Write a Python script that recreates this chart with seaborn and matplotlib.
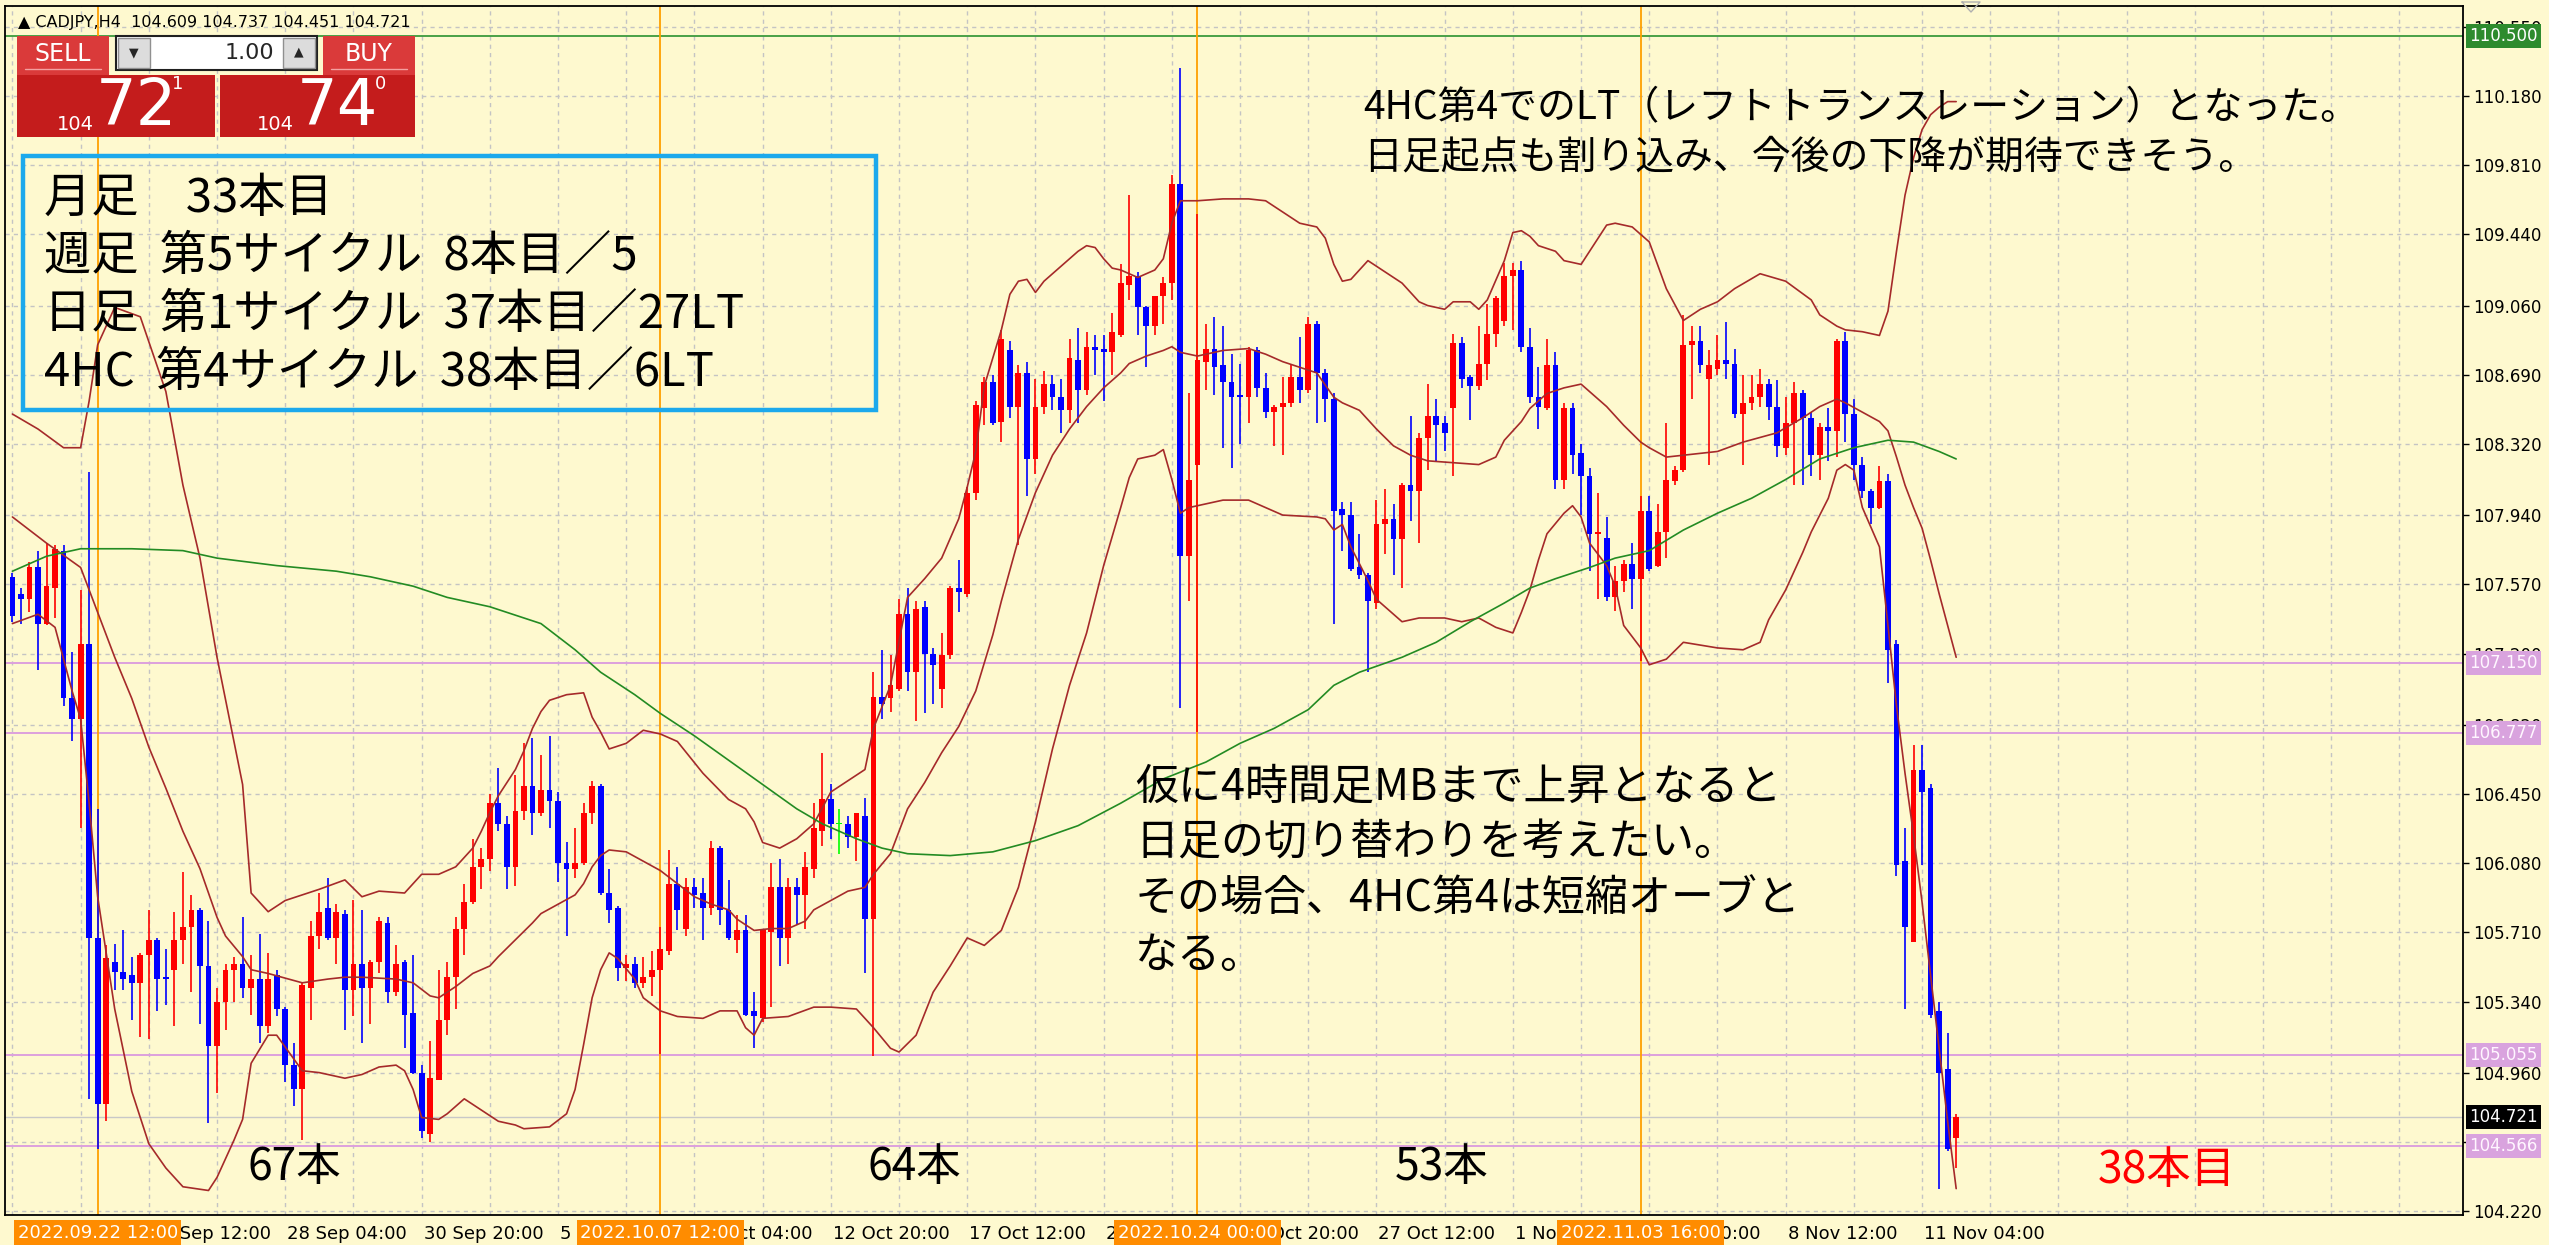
import numpy as np
import pandas as pd
import seaborn as sns
import matplotlib.pyplot as plt
import matplotlib.transforms as mtransforms
from matplotlib.patches import Rectangle
from matplotlib import font_manager

# 1. Candle data, CADJPY H4 (bar 0 = 20 Sep 20:00)
opens = [
    107.61, 107.52, 107.49, 107.66, 107.36, 107.55, 107.75, 106.96, 106.85, 107.25,
    105.68, 104.79, 105.55, 105.50, 105.48, 105.44, 105.59, 105.67, 105.47, 105.51,
    105.67, 105.74, 105.83, 105.53, 105.10, 105.34, 105.51, 105.54, 105.41, 105.46,
    105.21, 105.48, 105.30, 105.00, 104.87, 105.41, 105.69, 105.84, 105.68, 105.81,
    105.40, 105.54, 105.41, 105.55, 105.76, 105.39, 105.55, 105.28, 104.96, 104.63,
    104.92, 105.24, 105.47, 105.73, 105.87, 106.06, 106.10, 106.40, 106.29, 106.06,
    106.36, 106.49, 106.35, 106.47, 106.41, 106.08, 106.05, 106.08, 106.35, 106.49,
    105.92, 105.84, 105.52, 105.54, 105.44, 105.47, 105.51, 105.61, 105.97, 105.73,
    105.95, 105.92, 105.84, 106.16, 105.83, 105.67, 105.72, 105.29, 105.25, 105.71,
    105.95, 105.68, 105.95, 105.91, 106.05, 106.25, 106.42, 106.29, 106.29, 106.22,
    106.33, 105.78, 106.97, 106.96, 107.01, 107.41, 107.10, 107.45, 107.20, 107.01,
    107.19, 107.55, 107.52, 108.06, 108.51, 108.65, 108.44, 108.82, 108.52, 108.70,
    108.24, 108.52, 108.64, 108.57, 108.50, 108.77, 108.61, 108.84, 108.83, 108.81,
    108.90, 109.17, 109.22, 109.05, 108.95, 109.11, 109.18, 109.71, 107.72, 108.21,
    108.76, 108.83, 108.74, 108.65, 108.58, 108.57, 108.82, 108.62, 108.49, 108.52,
    108.54, 108.68, 108.61, 108.96, 108.70, 108.56, 107.97, 107.94, 107.66, 107.62,
    107.47, 107.89, 107.92, 107.81, 108.10, 108.07, 108.35, 108.47, 108.43, 108.51,
    108.86, 108.68, 108.63, 108.75, 108.91, 108.98, 109.22, 109.25, 108.84, 108.57,
    108.51, 108.74, 108.13, 108.51, 108.27, 108.15, 107.84, 107.82, 107.50, 107.59,
    107.68, 107.60, 107.96, 107.67, 107.85, 108.12, 108.18, 108.85, 108.87, 108.67,
    108.72, 108.77, 108.75, 108.48, 108.54, 108.57, 108.64, 108.52, 108.30, 108.43,
    108.59, 108.46, 108.26, 108.41, 108.39, 108.87, 108.48, 108.21, 108.07, 107.98,
    108.12, 107.25, 106.09, 105.66, 106.58, 106.48, 105.29, 104.98, 104.609]
highs = [
    107.63, 107.55, 107.69, 107.75, 107.79, 107.78, 107.78, 107.21, 107.54, 108.17,
    106.37, 105.64, 105.65, 105.72, 105.58, 105.60, 105.83, 105.68, 105.62, 105.82,
    106.03, 105.91, 105.84, 105.77, 105.41, 105.54, 105.58, 105.79, 105.59, 105.70,
    105.60, 105.51, 105.31, 105.12, 105.44, 105.77, 105.92, 106.00, 105.86, 105.83,
    105.88, 105.83, 105.56, 105.79, 105.79, 105.64, 105.56, 105.59, 105.00, 105.13,
    105.51, 105.55, 105.79, 105.97, 106.21, 106.16, 106.45, 106.59, 106.33, 106.55,
    106.72, 106.75, 106.66, 106.76, 106.46, 106.19, 106.27, 106.40, 106.52, 106.50,
    106.05, 105.85, 105.59, 105.58, 105.58, 105.61, 105.74, 106.15, 106.06, 106.00,
    106.00, 106.00, 106.20, 106.17, 105.99, 105.80, 105.80, 105.39, 105.72, 106.08,
    106.10, 106.00, 106.00, 106.14, 106.40, 106.67, 106.50, 106.37, 106.33, 106.35,
    106.43, 107.10, 107.22, 107.19, 107.49, 107.55, 107.48, 107.48, 107.23, 107.31,
    107.56, 107.70, 108.09, 108.55, 108.68, 108.69, 108.93, 108.87, 108.74, 108.76,
    108.67, 108.71, 108.69, 108.67, 108.88, 108.94, 108.92, 108.90, 108.90, 109.02,
    109.28, 109.65, 109.24, 109.06, 109.11, 109.21, 109.76, 110.33, 108.59, 109.55,
    108.96, 109.00, 108.95, 108.80, 108.75, 108.84, 108.84, 108.70, 108.53, 108.68,
    108.74, 108.89, 109.00, 108.98, 108.72, 108.59, 108.01, 108.01, 107.84, 107.63,
    108.02, 108.08, 108.00, 108.11, 108.47, 108.38, 108.64, 108.56, 108.47, 108.91,
    108.89, 108.69, 108.95, 109.07, 109.11, 109.29, 109.29, 109.30, 108.94, 108.73,
    108.88, 108.81, 108.54, 108.54, 108.32, 108.19, 108.06, 107.93, 107.67, 107.70,
    107.79, 108.04, 108.04, 108.00, 108.43, 108.20, 109.01, 108.95, 108.95, 108.82,
    108.90, 108.97, 108.83, 108.69, 108.69, 108.72, 108.67, 108.66, 108.57, 108.65,
    108.61, 108.49, 108.43, 108.51, 108.88, 108.92, 108.56, 108.25, 108.08, 108.20,
    108.16, 107.27, 106.27, 106.71, 106.71, 106.50, 105.34, 105.17, 104.737]
lows = [
    107.37, 107.36, 107.42, 107.11, 107.35, 107.39, 106.92, 106.73, 106.27, 104.82,
    104.55, 104.70, 105.40, 105.40, 105.24, 105.15, 105.14, 105.29, 105.32, 105.21,
    105.54, 105.39, 105.22, 104.69, 104.85, 105.19, 105.34, 105.36, 105.27, 105.12,
    105.17, 105.26, 104.91, 104.78, 104.60, 105.24, 105.62, 105.67, 105.54, 105.19,
    105.26, 105.12, 105.22, 105.49, 105.33, 105.37, 105.09, 104.95, 104.61, 104.59,
    104.92, 105.16, 105.30, 105.59, 105.86, 105.94, 106.04, 106.25, 105.94, 105.96,
    106.31, 106.23, 106.33, 106.27, 105.98, 105.69, 106.00, 106.07, 106.29, 105.91,
    105.76, 105.45, 105.45, 105.41, 105.41, 105.37, 105.06, 105.59, 105.72, 105.69,
    105.84, 105.67, 105.80, 105.75, 105.67, 105.60, 105.26, 105.09, 105.23, 105.31,
    105.53, 105.54, 105.75, 105.73, 106.00, 106.17, 106.21, 106.13, 106.16, 106.09,
    105.49, 105.05, 106.85, 106.89, 107.00, 107.00, 106.84, 106.88, 106.93, 106.91,
    107.17, 107.42, 107.50, 108.02, 108.42, 108.42, 108.33, 108.46, 107.78, 108.04,
    108.16, 108.48, 108.50, 108.38, 108.43, 108.43, 108.58, 108.69, 108.55, 108.69,
    108.89, 109.09, 108.90, 108.73, 108.90, 108.96, 109.09, 106.91, 107.48, 106.78,
    108.61, 108.58, 108.30, 108.19, 108.32, 108.43, 108.57, 108.46, 108.31, 108.26,
    108.52, 108.54, 108.59, 108.43, 108.44, 107.36, 107.75, 107.64, 107.60, 107.10,
    107.44, 107.73, 107.62, 107.55, 107.91, 107.79, 108.18, 108.23, 108.28, 108.15,
    108.62, 108.45, 108.61, 108.66, 108.84, 108.95, 108.93, 108.81, 108.54, 108.40,
    108.50, 108.08, 108.08, 108.16, 107.94, 107.64, 107.49, 107.48, 107.43, 107.53,
    107.44, 107.16, 107.64, 107.66, 107.71, 108.10, 108.17, 108.56, 108.70, 108.21,
    108.69, 108.67, 108.46, 108.21, 108.50, 108.52, 108.45, 108.25, 108.26, 108.10,
    108.10, 108.15, 108.13, 108.23, 108.25, 108.33, 108.13, 108.03, 107.89, 107.97,
    107.04, 106.01, 105.30, 105.66, 106.07, 105.25, 104.34, 104.54, 104.451]
closes = [
    107.40, 107.49, 107.66, 107.36, 107.56, 107.76, 106.96, 106.85, 107.25, 105.68,
    104.79, 105.57, 105.50, 105.46, 105.44, 105.59, 105.67, 105.46, 105.46, 105.67,
    105.74, 105.83, 105.53, 105.10, 105.34, 105.51, 105.54, 105.41, 105.46, 105.21,
    105.46, 105.30, 105.00, 104.87, 105.43, 105.69, 105.82, 105.68, 105.82, 105.40,
    105.54, 105.41, 105.55, 105.77, 105.39, 105.54, 105.27, 104.96, 104.65, 104.93,
    105.24, 105.47, 105.73, 105.87, 106.06, 106.10, 106.40, 106.29, 106.06, 106.36,
    106.49, 106.35, 106.47, 106.41, 106.08, 106.05, 106.08, 106.35, 106.49, 105.92,
    105.83, 105.52, 105.54, 105.44, 105.47, 105.51, 105.62, 105.97, 105.83, 105.95,
    105.91, 105.84, 106.16, 105.83, 105.68, 105.72, 105.27, 105.26, 105.72, 105.95,
    105.68, 105.95, 105.91, 106.06, 106.27, 106.42, 106.29, 106.29, 106.22, 106.35,
    105.78, 106.97, 106.93, 107.03, 107.41, 107.10, 107.44, 107.20, 107.14, 107.19,
    107.55, 107.53, 108.06, 108.53, 108.65, 108.43, 108.88, 108.52, 108.70, 108.24,
    108.52, 108.64, 108.57, 108.50, 108.78, 108.61, 108.84, 108.82, 108.81, 108.92,
    109.18, 109.22, 109.05, 108.95, 109.11, 109.18, 109.71, 107.72, 108.13, 108.77,
    108.83, 108.73, 108.65, 108.57, 108.57, 108.82, 108.62, 108.49, 108.52, 108.54,
    108.68, 108.61, 108.96, 108.70, 108.56, 107.96, 107.94, 107.65, 107.62, 107.48,
    107.89, 107.92, 107.81, 108.10, 108.07, 108.35, 108.47, 108.42, 108.38, 108.86,
    108.67, 108.63, 108.75, 108.91, 109.10, 109.22, 109.25, 108.84, 108.57, 108.52,
    108.74, 108.13, 108.51, 108.26, 108.15, 107.84, 107.85, 107.50, 107.59, 107.68,
    107.60, 107.96, 107.65, 107.85, 108.13, 108.18, 108.85, 108.87, 108.74, 108.74,
    108.77, 108.75, 108.48, 108.54, 108.57, 108.64, 108.52, 108.31, 108.43, 108.59,
    108.46, 108.26, 108.41, 108.39, 108.87, 108.48, 108.21, 108.07, 107.98, 108.12,
    107.22, 106.07, 105.74, 106.58, 106.46, 105.27, 104.96, 104.55, 104.721]

# 2. Bollinger band and moving average readings (bar index, price)
upper_bar = [0, 3, 6, 8, 9, 10, 12, 15, 18, 20, 22, 24, 27, 28, 30, 32, 36, 39, 41, 43,
             46, 48, 50, 52, 54, 55, 56, 57, 59, 60, 61, 62, 63, 65, 67, 68, 69, 70, 72, 74,
             76, 78, 81, 84, 86, 87, 88, 90, 92, 94, 96, 98, 100, 101, 103, 105, 107, 109, 111, 112,
             113, 114, 116, 117, 118, 119, 120, 121, 123, 125, 126, 127, 128, 129, 130, 132, 134, 135, 136, 137,
             139, 142, 145, 147, 149, 151, 153, 154, 155, 156, 157, 159, 161, 163, 165, 166, 168, 169, 171, 172,
             173, 175, 176, 177, 178, 179, 181, 182, 184, 185, 187, 188, 190, 192, 194, 196, 198, 200, 202, 205,
             208, 211, 212, 214, 215, 217, 219, 220, 221, 222, 223, 224, 225, 226, 227, 228]
upper_val = [108.48, 108.40, 108.30, 108.30, 108.55, 108.85, 109.05, 109.00, 108.60, 108.10,
             107.71, 107.18, 106.50, 105.92, 105.82, 105.88, 105.94, 105.99, 105.90, 105.93,
             105.92, 106.02, 106.02, 106.06, 106.16, 106.25, 106.35, 106.44, 106.58, 106.68,
             106.80, 106.89, 106.95, 106.98, 106.99, 106.86, 106.78, 106.69, 106.72, 106.79,
             106.77, 106.73, 106.56, 106.42, 106.37, 106.30, 106.19, 106.16, 106.21, 106.29,
             106.46, 106.52, 106.58, 106.80, 107.03, 107.50, 107.60, 107.71, 107.92, 108.09,
             108.28, 108.63, 108.93, 109.12, 109.19, 109.20, 109.13, 109.19, 109.27, 109.35,
             109.38, 109.37, 109.31, 109.26, 109.25, 109.21, 109.25, 109.31, 109.50, 109.62,
             109.62, 109.63, 109.63, 109.62, 109.56, 109.50, 109.48, 109.42, 109.28, 109.19,
             109.20, 109.30, 109.24, 109.18, 109.08, 109.06, 109.04, 109.08, 109.08, 109.04,
             109.09, 109.30, 109.45, 109.46, 109.43, 109.38, 109.35, 109.30, 109.28, 109.35,
             109.49, 109.50, 109.48, 109.40, 109.15, 108.98, 109.04, 109.08, 109.15, 109.23,
             109.19, 109.09, 109.01, 108.95, 108.93, 108.92, 108.90, 109.03, 109.35, 109.65,
             109.85, 110.00, 110.08, 110.12, 110.15, 110.15]

mid_bar = [0, 4, 8, 10, 12, 14, 16, 18, 20, 22, 24, 25, 27, 28, 30, 34, 37, 39, 41, 45,
           47, 49, 50, 52, 54, 56, 57, 59, 61, 62, 64, 66, 67, 68, 69, 70, 72, 74, 76, 78,
           80, 82, 84, 85, 87, 89, 91, 93, 94, 96, 98, 100, 101, 103, 105, 107, 109, 111, 113, 115,
           116, 118, 120, 122, 124, 126, 128, 130, 131, 133, 135, 136, 137, 139, 142, 145, 147, 149, 151, 153,
           155, 156, 158, 160, 162, 164, 166, 169, 172, 174, 175, 177, 178, 180, 182, 184, 185, 187, 189, 191,
           192, 194, 196, 200, 203, 207, 210, 212, 214, 215, 217, 219, 220, 221, 222, 223, 224, 225, 226, 227,
           228]
mid_val = [107.93, 107.79, 107.66, 107.42, 107.18, 106.96, 106.70, 106.48, 106.25, 106.05,
           105.79, 105.69, 105.58, 105.51, 105.49, 105.44, 105.46, 105.47, 105.47, 105.46,
           105.44, 105.37, 105.36, 105.42, 105.49, 105.53, 105.58, 105.67, 105.76, 105.81,
           105.86, 105.91, 105.97, 106.06, 106.12, 106.15, 106.14, 106.09, 106.04, 105.97,
           105.90, 105.86, 105.83, 105.78, 105.72, 105.73, 105.73, 105.77, 105.83, 105.88,
           105.93, 105.95, 106.02, 106.13, 106.37, 106.51, 106.67, 106.81, 107.00, 107.30,
           107.48, 107.81, 108.06, 108.26, 108.40, 108.52, 108.62, 108.70, 108.75, 108.79,
           108.82, 108.84, 108.81, 108.79, 108.82, 108.83, 108.80, 108.76, 108.73, 108.70,
           108.57, 108.54, 108.50, 108.40, 108.31, 108.26, 108.23, 108.22, 108.21, 108.25,
           108.34, 108.44, 108.51, 108.59, 108.62, 108.64, 108.60, 108.52, 108.42, 108.33,
           108.30, 108.25, 108.26, 108.28, 108.33, 108.38, 108.46, 108.52, 108.56, 108.54,
           108.49, 108.44, 108.39, 108.25, 108.10, 107.98, 107.87, 107.70, 107.52, 107.35,
           107.18]

lower_bar = [0, 3, 5, 7, 8, 9, 10, 12, 14, 16, 18, 20, 23, 24, 26, 27, 28, 30, 31, 34,
             36, 39, 41, 43, 45, 46, 47, 48, 50, 51, 53, 54, 55, 57, 59, 60, 63, 65, 66, 67,
             68, 69, 70, 71, 73, 74, 76, 78, 81, 83, 85, 86, 87, 88, 91, 94, 96, 99, 101, 103,
             104, 106, 108, 110, 112, 114, 116, 118, 120, 122, 124, 126, 128, 130, 131, 132, 134, 135, 136, 137,
             138, 140, 142, 145, 147, 149, 153, 154, 155, 156, 157, 159, 160, 162, 163, 165, 168, 170, 172, 174,
             176, 177, 178, 179, 180, 182, 183, 184, 185, 187, 188, 189, 191, 192, 194, 196, 200, 203, 205, 206,
             208, 210, 211, 213, 214, 215, 216, 217, 219, 220, 221, 222, 223, 224, 225, 226, 227, 228]
lower_val = [107.36, 107.41, 107.34, 107.00, 106.85, 106.40, 105.90, 105.30, 104.86, 104.58,
             104.45, 104.35, 104.33, 104.40, 104.60, 104.71, 105.01, 105.16, 105.16, 104.97,
             104.96, 104.93, 104.95, 104.99, 105.00, 104.97, 104.87, 104.72, 104.71, 104.74,
             104.82, 104.79, 104.76, 104.70, 104.68, 104.66, 104.67, 104.74, 104.87, 105.11,
             105.36, 105.51, 105.60, 105.57, 105.46, 105.36, 105.29, 105.26, 105.25, 105.29,
             105.29, 105.20, 105.16, 105.25, 105.26, 105.31, 105.31, 105.30, 105.20, 105.09,
             105.07, 105.16, 105.39, 105.53, 105.68, 105.64, 105.72, 105.95, 106.30, 106.69,
             107.03, 107.31, 107.67, 107.98, 108.14, 108.24, 108.26, 108.29, 108.13, 107.95,
             107.98, 108.00, 108.02, 108.02, 107.98, 107.94, 107.93, 107.92, 107.86, 107.89,
             107.77, 107.59, 107.49, 107.41, 107.37, 107.39, 107.39, 107.37, 107.39, 107.34,
             107.31, 107.42, 107.54, 107.70, 107.84, 107.95, 107.99, 107.93, 107.79, 107.67,
             107.56, 107.35, 107.23, 107.14, 107.17, 107.26, 107.23, 107.22, 107.26, 107.38,
             107.54, 107.74, 107.85, 108.03, 108.18, 108.21, 108.18, 107.98, 107.77, 107.35,
             106.92, 106.56, 106.23, 105.87, 105.48, 105.09, 104.70, 104.34]

ma_bar = [0, 4, 8, 14, 20, 24, 31, 38, 42, 47, 51, 56, 62, 66, 69, 73, 76, 80, 84, 88,
          92, 95, 97, 99, 102, 105, 110, 115, 120, 125, 130, 135, 140, 144, 148, 152, 155, 158, 163, 167,
          171, 175, 178, 181, 185, 188, 192, 196, 200, 204, 208, 212, 216, 220, 223, 226, 228]
ma_val = [107.64, 107.72, 107.76, 107.76, 107.75, 107.71, 107.67, 107.64, 107.61, 107.56,
          107.50, 107.45, 107.36, 107.22, 107.10, 106.98, 106.88, 106.76, 106.63, 106.50,
          106.37, 106.29, 106.25, 106.21, 106.16, 106.13, 106.12, 106.14, 106.20, 106.28,
          106.40, 106.53, 106.62, 106.72, 106.80, 106.90, 107.03, 107.10, 107.18, 107.26,
          107.37, 107.47, 107.55, 107.60, 107.66, 107.71, 107.75, 107.86, 107.95, 108.03,
          108.13, 108.24, 108.30, 108.34, 108.33, 108.28, 108.24]

# 3. Axis labels, markers and levels
price_ticks = [110.550, 110.180, 109.810, 109.440, 109.060, 108.690, 108.320, 107.940, 107.570,
               107.200, 106.820, 106.450, 106.080, 105.710, 105.340, 104.960, 104.590, 104.220]
date_ticks = [0, 16, 32, 48, 64, 80, 96, 112, 128, 144, 160, 176, 192, 208, 224]
date_labels = ["20 Sep 20:00", "23 Sep 12:00", "28 Sep 04:00", "30 Sep 20:00", "5 Oct 12:00",
               "10 Oct 04:00", "12 Oct 20:00", "17 Oct 12:00", "20 Oct 04:00", "24 Oct 20:00",
               "27 Oct 12:00", "1 Nov 04:00", "3 Nov 20:00", "8 Nov 12:00", "11 Nov 04:00"]
marker_bars = [10, 76, 139, 191]
marker_labels = ["2022.09.22 12:00", "2022.10.07 12:00", "2022.10.24 00:00", "2022.11.03 16:00"]
level_prices = [107.150, 106.777, 105.055, 104.566]
top_level = 110.500
last_price = 104.721

box_lines = ["月足　33本目", "週足  第5サイクル  8本目／5",
             "日足  第1サイクル  37本目／27LT", "4HC  第4サイクル  38本目／6LT"]
note_top = "4HC第4でのLT（レフトトランスレーション）となった。\n日足起点も割り込み、今後の下降が期待できそう。"
note_mid = "仮に4時間足MBまで上昇となると\n日足の切り替わりを考えたい。\nその場合、4HC第4は短縮オーブと\nなる。"
count_labels = ["67本", "64本", "53本"]

BG = "#FEF9CF"
UP, DOWN, DOJI = "#FF0000", "#0000FF", "#00FF00"
BAND = "#A52A2A"
MA = "#238B23"
PLUM = "#DDA0DD"
ORANGE = "#FFA000"

sns.set_style("white", {"axes.facecolor": BG, "figure.facecolor": BG})
plt.rcParams['font.family'] = ['Noto Sans CJK JP', 'DejaVu Sans']
names = {f.name for f in font_manager.fontManager.ttflist}
narrow = 'Liberation Sans Narrow' if 'Liberation Sans Narrow' in names else 'DejaVu Sans'

W, H = 2549, 1245
fig = plt.figure(figsize=(W / 100, H / 100), dpi=100)
ax = fig.add_axes([5 / W, 30 / H, 2458 / W, 1209 / H])
ax.set_facecolor(BG)

df = pd.DataFrame({"open": opens, "high": highs, "low": lows, "close": closes})
df["bar"] = np.arange(len(df))
df["color"] = np.where(df.close > df.open, UP, np.where(df.close < df.open, DOWN, DOJI))
df["body_lo"] = df[["open", "close"]].min(axis=1)
df["body_h"] = (df.close - df.open).abs().clip(lower=0.006)

# grid
for b in range(0, 290, 8):
    ax.axvline(b, color="#C4C4C4", lw=1.0, ls=(0, (3, 3)), zorder=0)
for p in price_ticks:
    ax.axhline(p, color="#C4C4C4", lw=1.0, ls=(0, (3, 3)), zorder=0)

# levels and vertical markers
for p in level_prices:
    ax.axhline(p, color=PLUM, lw=1.4, zorder=1)
ax.axhline(top_level, color="#3C9A3C", lw=1.3, zorder=1)
ax.axhline(last_price, color="#C8C8C8", lw=1.0, zorder=1)
for b in marker_bars:
    ax.axvline(b, color=ORANGE, lw=1.3, zorder=1)

# candles
ax.vlines(df.bar, df.low, df.high, colors=df.color, lw=1.2, zorder=3)
ax.bar(df.bar, df.body_h, bottom=df.body_lo, width=0.68, color=df.color, linewidth=0, zorder=4)

# bands and MA
for xs, ys in [(upper_bar, upper_val), (mid_bar, mid_val), (lower_bar, lower_val)]:
    sns.lineplot(x=xs, y=ys, ax=ax, color=BAND, linewidth=1.2, estimator=None, sort=False, zorder=5)
sns.lineplot(x=ma_bar, y=ma_val, ax=ax, color=MA, linewidth=1.2, estimator=None, sort=False, zorder=5)

ax.set_xlim(-0.87, 287.45)
ax.set_ylim(104.199, 110.661)
ax.set_xlabel("")
ax.set_ylabel("")

# axes ticks
ax.yaxis.tick_right()
ax.set_yticks(price_ticks)
ax.set_yticklabels([f"{p:.3f}" for p in price_ticks], fontsize=12, family="DejaVu Sans")
ax.set_xticks(date_ticks)
ax.set_xticklabels(date_labels, fontsize=13, family=narrow)
ax.tick_params(axis="y", direction="out", length=4.5, width=1, pad=3, colors="black")
ax.tick_params(axis="x", direction="out", length=4.5, width=1, pad=3, colors="black")
shift = mtransforms.ScaledTranslation(2 / 100, 0, fig.dpi_scale_trans)
for lbl in ax.get_xticklabels():
    lbl.set_horizontalalignment("left")
    lbl.set_transform(lbl.get_transform() + shift)
for s in ax.spines.values():
    s.set_color("black")
    s.set_linewidth(1.3)

# price boxes on the right axis
trans_r = mtransforms.blended_transform_factory(ax.transAxes, ax.transData)
boxes = [(top_level, "#2E8B2E", "white")] + [(p, "#D9A3DE", "#FFF6FF") for p in level_prices] \
        + [(last_price, "black", "white")]
for p, fc, tc in boxes:
    ax.text(1.0025, p, f"{p:.3f}", transform=trans_r, ha="left", va="center", fontsize=12,
            family="DejaVu Sans", color=tc, clip_on=False, zorder=10,
            bbox=dict(boxstyle="square,pad=0.18", fc=fc, ec="none"))

# date boxes under the vertical markers
trans_b = mtransforms.blended_transform_factory(ax.transData, ax.transAxes)
for b, lab in zip(marker_bars, marker_labels):
    ax.text(b, -0.0075, lab, transform=trans_b, ha="center", va="top", fontsize=13, family=narrow,
            color="white", clip_on=False, zorder=10,
            bbox=dict(boxstyle="square,pad=0.2", fc="#FF8C00", ec="none"))

# 4. Overlay in pixel coordinates: trade panel and notes
ui = fig.add_axes([0, 0, 1, 1], zorder=20)
ui.set_xlim(0, W)
ui.set_ylim(H, 0)
ui.axis("off")
ui.patch.set_alpha(0)

ui.text(18, 22, "▲ CADJPY,H4  104.609 104.737 104.451 104.721", fontsize=11.5,
        family="DejaVu Sans", va="center", ha="left", color="black")

for x0, w0 in [(17, 92), (323, 92)]:
    ui.add_patch(Rectangle((x0, 36), w0, 40, fc="#DA3A3A", ec="none"))
    ui.plot([x0 + 8, x0 + w0 - 8], [69, 69], color="#F4A0A0", lw=1)
ui.add_patch(Rectangle((17, 75), 198, 62, fc="#C41C1C", ec="none"))
ui.add_patch(Rectangle((220, 75), 195, 62, fc="#C41C1C", ec="none"))
ui.add_patch(Rectangle((116, 36), 201, 34, fc="white", ec="#202020", lw=1.5))
ui.add_patch(Rectangle((118, 38), 32, 30, fc="#DCDCDC", ec="#909090", lw=1))
ui.add_patch(Rectangle((283, 38), 32, 30, fc="#DCDCDC", ec="#909090", lw=1))
ui.text(134, 53, "▼", fontsize=9, ha="center", va="center", family="DejaVu Sans")
ui.text(299, 52, "▲", fontsize=9, ha="center", va="center", family="DejaVu Sans")
ui.text(274, 53, "1.00", fontsize=16, ha="right", va="center", family=narrow)
ui.text(63, 54, "SELL", fontsize=17, ha="center", va="center", color="white", family=narrow)
ui.text(369, 54, "BUY", fontsize=17, ha="center", va="center", color="white", family=narrow)
for x_small, x_big, x_sup, big, sup in [(75, 136, 178, "72", "1"), (275, 337, 381, "74", "0")]:
    ui.text(x_small, 124, "104", fontsize=14, ha="center", va="center", color="white", family=narrow)
    ui.text(x_big, 107, big, fontsize=46, ha="center", va="center", color="white", family=narrow)
    ui.text(x_sup, 84, sup, fontsize=13, ha="center", va="center", color="white", family=narrow)
ui.plot([1962, 1980, 1971, 1962], [2, 2, 12, 2], color="#B0B0B0", lw=1)

ui.add_patch(Rectangle((23, 156), 853, 254, fc="none", ec="#1CA9EC", lw=3.2))
for i, line in enumerate(box_lines):
    ui.text(44, 199 + i * 58, line, fontsize=34, ha="left", va="center", color="black")

ui.text(1363, 133, note_top, fontsize=28, ha="left", va="center", linespacing=1.3, color="black")
ui.text(1135, 872, note_mid, fontsize=31, ha="left", va="center", linespacing=1.36, color="black")

for xc, lab in zip([294, 914, 1442], count_labels):
    ui.text(xc, 1167, lab, fontsize=32, ha="center", va="center", color="black")
ui.text(2167, 1170, "38本目", fontsize=32, ha="center", va="center", color="#FF0000")

fig.savefig("out.png", dpi=100, facecolor=BG)
